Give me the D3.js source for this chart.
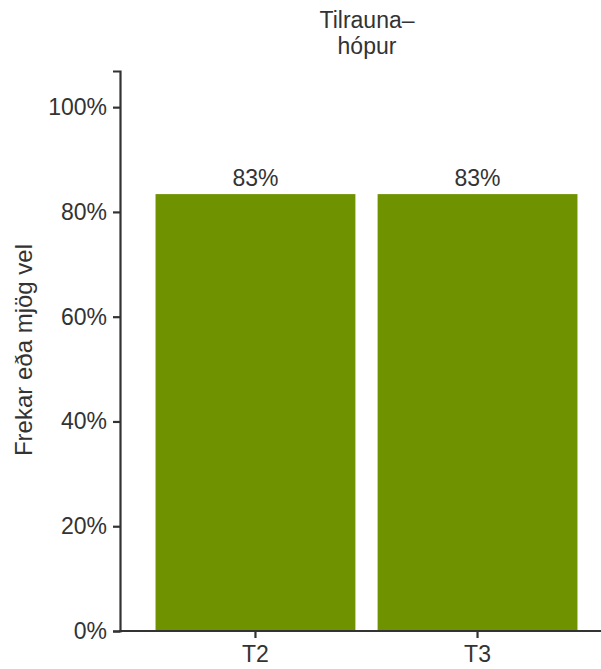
<!DOCTYPE html>
<html>
<head>
<meta charset="utf-8">
<script src="https://d3js.org/d3.v7.min.js"></script>
<style>
  body { margin: 0; background: white; }
  text { font-family: "Liberation Sans", Arial, sans-serif; fill: #333; }
</style>
</head>
<body>
<div id="chart"></div>
<script>
const groups = ["T2", "T3"];
const shares = [0.834, 0.834];
const barLabels = ["83%", "83%"];
const yTicks = [0, 0.2, 0.4, 0.6, 0.8, 1.0];
const titleLines = ["Tilrauna–", "hópur"];
const yTitle = "Frekar eða mjög vel";

const w = 601, h = 669;
const left = 120, bottom = 631;
const fs = "23px";

const svg = d3.select("#chart").append("svg")
    .attr("width", w)
    .attr("height", h);

const x = d3.scaleBand()
    .domain(groups)
    .range([left, 613])
    .paddingInner(0.1)
    .paddingOuter(0.16);

const y = d3.scaleLinear()
    .domain([0, 1.069])
    .range([bottom, 71]);

// bars
svg.selectAll(".bar")
    .data(groups)
    .enter()
    .append("rect")
    .attr("class", "bar")
    .attr("x", d => x(d))
    .attr("y", (d, i) => y(shares[i]))
    .attr("width", x.bandwidth())
    .attr("height", (d, i) => bottom - y(shares[i]))
    .style("fill", "#6f9300");

svg.selectAll(".bar-label")
    .data(groups)
    .enter()
    .append("text")
    .attr("class", "bar-label")
    .attr("x", d => x(d) + x.bandwidth() / 2)
    .attr("y", (d, i) => y(shares[i]) - 8)
    .attr("text-anchor", "middle")
    .style("font-size", fs)
    .text((d, i) => barLabels[i]);

// axes
const xAxis = svg.append("g")
    .attr("transform", "translate(0," + bottom + ")")
    .call(d3.axisBottom(x).tickSizeOuter(0).tickSize(7));

const yAxis = svg.append("g")
    .attr("transform", "translate(" + left + ",0)")
    .call(d3.axisLeft(y).tickValues(yTicks).tickFormat(d3.format(".0%")).tickSizeOuter(0).tickSize(7).tickPadding(6));

[xAxis, yAxis].forEach(g => {
    g.select(".domain").attr("stroke", "#333").attr("stroke-width", 2.2);
    g.selectAll(".tick line").attr("stroke", "#333").attr("stroke-width", 2.2);
    g.selectAll(".tick text").style("font-size", fs).attr("fill", "#333");
});
xAxis.selectAll(".tick text").attr("y", 31).attr("dy", null);
xAxis.select(".domain").attr("d", "M" + (left - 1) + ",0H" + w);

// titles
svg.append("text")
    .attr("x", 367)
    .attr("y", 28)
    .attr("text-anchor", "middle")
    .style("font-size", fs)
    .selectAll("tspan")
    .data(titleLines)
    .enter()
    .append("tspan")
    .attr("x", 367)
    .attr("dy", (d, i) => i === 0 ? 0 : 26)
    .text(d => d);

svg.append("text")
    .attr("transform", "translate(32,350) rotate(-90)")
    .attr("text-anchor", "middle")
    .style("font-size", "24px")
    .text(yTitle);
</script>
</body>
</html>
